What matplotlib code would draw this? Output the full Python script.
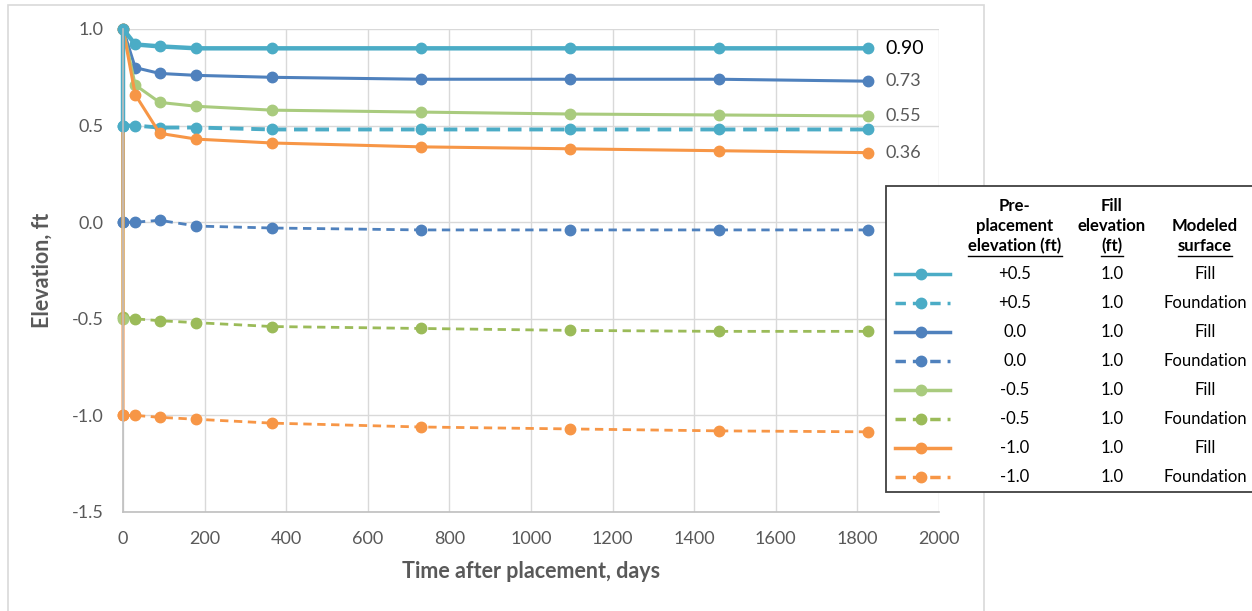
import matplotlib.pyplot as plt
from matplotlib.lines import Line2D
from matplotlib.patches import Rectangle

plt.rcParams['font.family'] = ['Lato', 'DejaVu Sans']

# time after placement (days)
days = [0, 30, 90, 180, 365, 730, 1095, 1460, 1825]
# fill series start at the pre-placement elevation, then jump to the fill top
fill_days = [0] + days

fill_p05 = [0.50, 1.00, 0.92, 0.91, 0.90, 0.90, 0.90, 0.90, 0.90, 0.90]
fill_000 = [0.00, 1.00, 0.80, 0.77, 0.76, 0.75, 0.74, 0.74, 0.74, 0.73]
fill_m05 = [-0.50, 1.00, 0.71, 0.62, 0.60, 0.58, 0.57, 0.56, 0.555, 0.55]
fill_m10 = [-1.00, 1.00, 0.66, 0.46, 0.43, 0.41, 0.39, 0.38, 0.37, 0.36]

fnd_p05 = [0.50, 0.50, 0.49, 0.49, 0.48, 0.48, 0.48, 0.48, 0.48]
fnd_000 = [0.00, 0.00, 0.01, -0.02, -0.03, -0.04, -0.04, -0.04, -0.04]
fnd_m05 = [-0.49, -0.50, -0.51, -0.52, -0.54, -0.55, -0.56, -0.565, -0.565]
fnd_m10 = [-1.00, -1.00, -1.01, -1.02, -1.04, -1.06, -1.07, -1.08, -1.085]

pre_labels = ['+0.5', '+0.5', '0.0', '0.0', '-0.5', '-0.5', '-1.0', '-1.0']
fill_elev = ['1.0'] * 8
surfaces = ['Fill', 'Foundation'] * 4

CYAN = '#4BACC6'
BLUE = '#4F81BD'
LGREEN = '#A9CB7E'
GREEN = '#9BBB59'
ORANGE = '#F79646'
GRAY = '#595959'

W, H = 1252, 611
fig = plt.figure(figsize=(W / 100, H / 100), dpi=100)
ax = fig.add_axes([123 / W, 1 - 512 / H, (939 - 123) / W, (512 - 29) / H])

# outer chart frame
fig.patches.append(Rectangle((8 / W, -0.02), (984 - 8) / W, 1.02 - 5 / H,
                             transform=fig.transFigure, fill=False,
                             edgecolor='#D9D9D9', lw=1.2))

mk = dict(marker='o', markersize=7.5, clip_on=False)
ax.plot(days, fnd_m10, color=ORANGE, lw=2.0, dashes=(3, 2), **mk)
ax.plot(days, fnd_m05, color=GREEN, lw=2.0, dashes=(3, 2), **mk)
ax.plot(days, fnd_000, color=BLUE, lw=2.0, dashes=(3, 2), **mk)
ax.plot(days, fnd_p05, color=CYAN, lw=2.8, dashes=(3.5, 2), **mk)
ax.plot(fill_days, fill_000, color=BLUE, lw=2.2, **mk)
ax.plot(fill_days, fill_m05, color=LGREEN, lw=2.2, **mk)
ax.plot(fill_days, fill_m10, color=ORANGE, lw=2.2, **mk)
ax.plot(fill_days, fill_p05, color=CYAN, lw=3.2, **mk)

# end-of-record values for the fill series
for vals, size, col in [(fill_p05, 14, 'black'), (fill_000, 13, GRAY),
                        (fill_m05, 13, GRAY), (fill_m10, 13, GRAY)]:
    ax.annotate('%.2f' % vals[-1], (fill_days[-1], vals[-1]),
                xytext=(13, 0), textcoords='offset points',
                ha='left', va='center', fontsize=size, color=col,
                annotation_clip=False)

ax.set_xlim(0, 2000)
ax.set_ylim(-1.5, 1.0)
ax.set_xticks(range(0, 2001, 200))
ax.set_yticks([-1.5, -1.0, -0.5, 0.0, 0.5, 1.0])
ax.yaxis.set_major_formatter(plt.FormatStrFormatter('%.1f'))
ax.tick_params(length=0, labelsize=13, labelcolor=GRAY, pad=14)
ax.grid(True, color='#D9D9D9', lw=1.0)
ax.set_axisbelow(True)
for side in ['top', 'right']:
    ax.spines[side].set_visible(False)
for side in ['left', 'bottom']:
    ax.spines[side].set_color('#BFBFBF')
    ax.spines[side].set_linewidth(1.2)
ax.set_xlabel('Time after placement, days', fontsize=15.5, fontweight='bold',
              color=GRAY, labelpad=10)
ax.set_ylabel('Elevation, ft', fontsize=15.5, fontweight='bold',
              color=GRAY, labelpad=14)


def fx(px):
    return px / W


def fy(py):
    return 1 - py / H


# legend table
fig.patches.append(Rectangle((fx(886), fy(492)), fx(1260 - 886), (492 - 186) / H,
                             transform=fig.transFigure, facecolor='white',
                             edgecolor='#404040', lw=1.3, zorder=5))

cols = [1015, 1112, 1205]
headers = [['Pre-', 'placement', 'elevation (ft)'],
           ['Fill', 'elevation', '(ft)'],
           ['Modeled', 'surface']]
head_y = [206, 226, 246]
renderer = fig.canvas.get_renderer()
for cx, lines in zip(cols, headers):
    ys = head_y[-len(lines):]
    for i, (txt, yy) in enumerate(zip(lines, ys)):
        t = fig.text(fx(cx), fy(yy), txt, ha='center', va='center',
                     fontsize=12, fontweight='bold', color='black', zorder=6)
        if i == len(lines) - 1:
            bb = t.get_window_extent(renderer)
            fig.add_artist(Line2D([bb.x0 / W, bb.x1 / W], [fy(yy + 10)] * 2,
                                  transform=fig.transFigure, color='black',
                                  lw=1.0, zorder=6))

row_y = [274, 303, 332, 361, 390, 419, 448, 477]
styles = [(CYAN, '-'), (CYAN, '--'), (BLUE, '-'), (BLUE, '--'),
          (LGREEN, '-'), (GREEN, '--'), (ORANGE, '-'), (ORANGE, '--')]
for yy, (col, ls), a, b, c in zip(row_y, styles, pre_labels, fill_elev, surfaces):
    fig.add_artist(Line2D([fx(895), fx(950)], [fy(yy)] * 2, transform=fig.transFigure,
                          color=col, lw=2.5, zorder=6,
                          dashes=(3, 2) if ls == '--' else (None, None)))
    fig.add_artist(Line2D([fx(921)], [fy(yy)], transform=fig.transFigure,
                          color=col, marker='o', markersize=7.5, zorder=7))
    for cx, txt in zip(cols, [a, b, c]):
        fig.text(fx(cx), fy(yy), txt, ha='center', va='center', fontsize=12,
                 color='black', zorder=6)

fig.savefig('out.png', dpi=100)
